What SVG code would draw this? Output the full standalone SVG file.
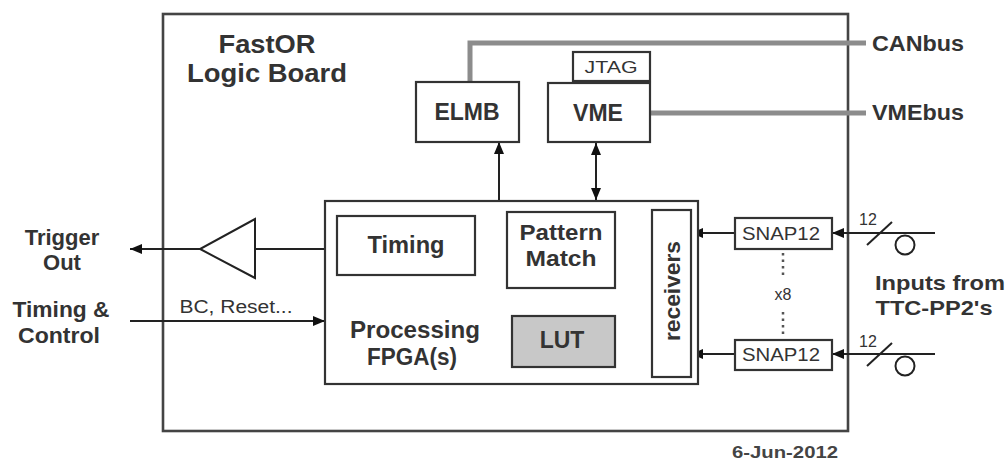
<svg xmlns="http://www.w3.org/2000/svg" width="1007" height="463" viewBox="0 0 1007 463">
<defs>
<marker id="ah" viewBox="0 0 12 10" refX="12" refY="5" markerWidth="12" markerHeight="10" markerUnits="userSpaceOnUse" orient="auto-start-reverse">
<path d="M0,0 L12,5 L0,10 Z" fill="#111"/>
</marker>
</defs>
<style>
.box{fill:#fff;stroke:#333;stroke-width:2.2}
.lbl{font-family:"Liberation Sans",Arial,sans-serif;font-weight:bold;fill:#333;text-anchor:middle}
.sm{font-family:"Liberation Sans",Arial,sans-serif;fill:#333;text-anchor:middle}
.ln{stroke:#222;stroke-width:2;fill:none}
.bus{stroke:#8c8c8c;stroke-width:5;fill:none}
.dot{stroke:#555;stroke-width:2.5;stroke-dasharray:2.5,4;fill:none}
</style>
<rect width="1007" height="463" fill="#fff"/>

<g id="board">
<rect x="163" y="14" width="685" height="417" fill="#fff" stroke="#444" stroke-width="2.6"/>
<text class="lbl" x="267" y="53" font-size="25" textLength="97" lengthAdjust="spacingAndGlyphs">FastOR</text>
<text class="lbl" x="267" y="82" font-size="25" textLength="160" lengthAdjust="spacingAndGlyphs">Logic Board</text>
</g>

<g id="connectors">
<path class="bus" d="M470,82 V43 H866"/>
<path class="bus" d="M650,113 H866"/>
<line class="ln" x1="499" y1="201" x2="499" y2="142" marker-end="url(#ah)"/>
<line class="ln" x1="596" y1="143" x2="596" y2="200" marker-start="url(#ah)" marker-end="url(#ah)"/>
<line class="ln" x1="337" y1="249" x2="255" y2="249"/>
<line class="ln" x1="200" y1="249" x2="130" y2="249" marker-end="url(#ah)"/>
<line class="ln" x1="130" y1="321" x2="325" y2="321" marker-end="url(#ah)"/>
<line class="ln" x1="475" y1="249" x2="507" y2="249"/>
<line class="ln" x1="561" y1="288" x2="561" y2="316"/>
<line class="ln" x1="652" y1="233" x2="615" y2="233" marker-end="url(#ah)"/>
<line class="ln" x1="735" y1="233" x2="691" y2="233" marker-end="url(#ah)"/>
<line class="ln" x1="735" y1="354" x2="691" y2="354" marker-end="url(#ah)"/>
<line class="ln" x1="935" y1="233" x2="832" y2="233" marker-end="url(#ah)"/>
<line class="ln" x1="935" y1="354" x2="832" y2="354" marker-end="url(#ah)"/>
<line class="ln" x1="867" y1="245" x2="892" y2="222"/>
<line class="ln" x1="867" y1="366" x2="892" y2="343"/>
<circle cx="905" cy="245" r="9.5" fill="none" stroke="#222" stroke-width="2"/>
<circle cx="905" cy="366" r="9.5" fill="none" stroke="#222" stroke-width="2"/>
<line class="dot" x1="783" y1="253" x2="783" y2="277"/>
<line class="dot" x1="783" y1="312" x2="783" y2="336"/>
<text class="sm" x="236" y="313" font-size="18" textLength="113" lengthAdjust="spacingAndGlyphs">BC, Reset...</text>
<text class="sm" x="868" y="225" font-size="16">12</text>
<text class="sm" x="868" y="347" font-size="16">12</text>
<text class="sm" x="783" y="300" font-size="16">x8</text>
</g>

<g id="buffer">
<polygon points="255,219 255,278 200,249" fill="#fff" stroke="#222" stroke-width="2"/>
</g>

<g id="elmb">
<rect class="box" x="416" y="82" width="103" height="60"/>
<text class="lbl" x="467" y="120" font-size="23">ELMB</text>
</g>

<g id="jtag">
<rect class="box" x="573" y="52" width="77" height="29"/>
<text class="sm" x="611" y="73" font-size="17" textLength="53" lengthAdjust="spacingAndGlyphs">JTAG</text>
</g>

<g id="vme">
<rect class="box" x="548" y="83" width="102" height="59"/>
<text class="lbl" x="598" y="121" font-size="23">VME</text>
</g>

<g id="fpga">
<rect class="box" x="325" y="201" width="373" height="183"/>
<text class="lbl" x="415" y="338" font-size="23" textLength="130" lengthAdjust="spacingAndGlyphs">Processing</text>
<text class="lbl" x="412" y="365" font-size="23" textLength="90" lengthAdjust="spacingAndGlyphs">FPGA(s)</text>
</g>

<g id="timing">
<rect class="box" x="337" y="216" width="138" height="59"/>
<text class="lbl" x="406" y="253" font-size="23" textLength="77" lengthAdjust="spacingAndGlyphs">Timing</text>
</g>

<g id="pattern">
<rect class="box" x="507" y="212" width="108" height="76"/>
<text class="lbl" x="561" y="240" font-size="22" textLength="83" lengthAdjust="spacingAndGlyphs">Pattern</text>
<text class="lbl" x="561" y="266" font-size="22" textLength="71" lengthAdjust="spacingAndGlyphs">Match</text>
</g>

<g id="lut">
<rect x="512" y="316" width="103" height="51" fill="#c8c8c8" stroke="#333" stroke-width="2.2"/>
<text class="lbl" x="562" y="348" font-size="23">LUT</text>
</g>

<g id="receivers">
<rect class="box" x="652" y="210" width="39" height="167"/>
<text class="lbl" transform="translate(680,291) rotate(-90)" font-size="22" textLength="100" lengthAdjust="spacingAndGlyphs">receivers</text>
</g>

<g id="snap1">
<rect class="box" x="735" y="218" width="97" height="31"/>
<text class="sm" x="781" y="240" font-size="18" textLength="78" lengthAdjust="spacingAndGlyphs">SNAP12</text>
</g>

<g id="snap2">
<rect class="box" x="735" y="340" width="97" height="30"/>
<text class="sm" x="781" y="361" font-size="18" textLength="78" lengthAdjust="spacingAndGlyphs">SNAP12</text>
</g>

<g id="labels">
<text class="lbl" x="62" y="245" font-size="22">Trigger</text>
<text class="lbl" x="62" y="270" font-size="22">Out</text>
<text class="lbl" x="61" y="317" font-size="22" textLength="97" lengthAdjust="spacingAndGlyphs">Timing &amp;</text>
<text class="lbl" x="59" y="343" font-size="22" textLength="82" lengthAdjust="spacingAndGlyphs">Control</text>
<text class="lbl" x="918" y="51" font-size="22" textLength="92" lengthAdjust="spacingAndGlyphs">CANbus</text>
<text class="lbl" x="918" y="120" font-size="22" textLength="92" lengthAdjust="spacingAndGlyphs">VMEbus</text>
<text class="lbl" x="940" y="290" font-size="21" textLength="130" lengthAdjust="spacingAndGlyphs">Inputs from</text>
<text class="lbl" x="934" y="315" font-size="21" textLength="117" lengthAdjust="spacingAndGlyphs">TTC-PP2's</text>
<text class="lbl" x="785" y="458" font-size="16" textLength="106" lengthAdjust="spacingAndGlyphs" style="fill:#444">6-Jun-2012</text>
</g>
</svg>
